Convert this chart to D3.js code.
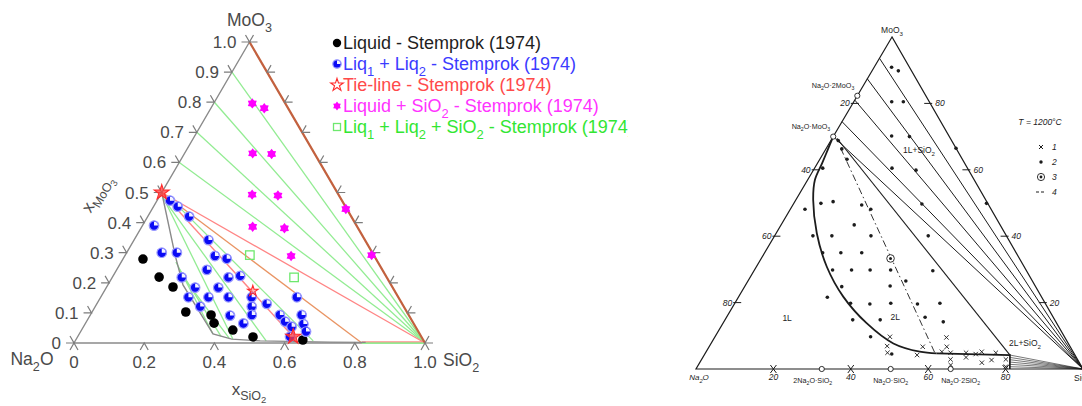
<!DOCTYPE html>
<html><head><meta charset="utf-8">
<script src="https://d3js.org/d3.v7.min.js"></script>
<style>html,body{margin:0;padding:0;background:#fff;} svg{display:block;}</style>
</head><body>
<svg id="chart" width="1082" height="406"></svg>
<script>
// ================= LEFT DIAGRAM DATA  (mole fractions [x_SiO2, x_MoO3]) =================
const leftEdgeTicks  = [0,0.1,0.2,0.3,0.4,0.5,0.6,0.7,0.8,0.9,1.0];
const leftEdgeLabels = ["0","0.1","0.2","0.3","0.4","0.5","0.6","0.7","0.8","0.9","1.0"];
const bottomTicks    = [0,0.2,0.4,0.6,0.8,1.0];
const bottomLabels   = ["0","0.2","0.4","0.6","0.8","1.0"];
const rightEdgeTicks = [0,0.1,0.2,0.3,0.4,0.5,0.6,0.7,0.8,0.9,1.0];

const liquidPts = [[0.057,0.279],[0.133,0.219],[0.189,0.186],[0.267,0.103],[0.344,0.093],
  [0.366,0.066],[0.431,0.043],[0.500,0.020],[0.647,0.010]];
const liq12Pts = [[0.037,0.473],[0.069,0.453],[0.118,0.420],[0.033,0.390],[0.212,0.342],
  [0.100,0.300],[0.143,0.300],[0.257,0.289],[0.295,0.280],[0.257,0.243],[0.198,0.218],
  [0.331,0.218],[0.362,0.223],[0.253,0.184],[0.319,0.184],[0.250,0.152],[0.307,0.152],
  [0.364,0.152],[0.430,0.152],[0.299,0.121],[0.484,0.130],[0.446,0.121],[0.399,0.091],
  [0.460,0.093],[0.450,0.065],[0.540,0.093],[0.566,0.071],[0.593,0.054],[0.559,0.152],
  [0.602,0.093],[0.622,0.063],[0.642,0.038],[0.605,0.021]];
const liqSiO2Pts = [[0.110,0.796],[0.152,0.780],[0.194,0.630],[0.249,0.628],[0.261,0.493],
  [0.336,0.490],[0.316,0.386],[0.409,0.381],[0.474,0.289],[0.552,0.445],[0.702,0.292]];
const liq12SiO2Pts = [[0.355,0.292],[0.518,0.218]];
const tieEndStars = [[0,0.5],[0.614,0.021]];
const tieMidStars = [[0.423,0.173]];
const fanMoO3 = [0.6,0.7,0.8,0.9,1.0];          // left-edge starts of Liquid+SiO2 tie lines
const tieLines2L = [
  [[0.011,0.485],[0.446,0.013]], [[0.017,0.478],[0.544,0.007]],
  [[0.156,0.269],[0.381,0.030]], [[0.174,0.249],[0.407,0.023]],
  [[0.197,0.223],[0.433,0.017]], [[0.024,0.488],[0.678,0.007]]];
const binodalL = [[0,0.5],[0.142,0.292],[0.214,0.193],[0.381,0.030],[0.443,0.013],
  [0.527,0.007],[0.728,0.003],[0.83,0.002]];
const triLiq1 = [0,0.5], triLiq2 = [0.82,0], triSolid = [1,0];
const tieLineRed = [[0,0.5],[0.614,0.021]];

const legendRows = [
  {label:"Liquid - Stemprok (1974)", color:"#1e1e1e", marker:"dot"},
  {label:"Liq_1 + Liq_2 - Stemprok (1974)", color:"#3b3bff", marker:"half"},
  {label:"Tie-line - Stemprok (1974)", color:"#ff4a4a", marker:"star"},
  {label:"Liquid + SiO_2 - Stemprok (1974)", color:"#ff33ff", marker:"hex"},
  {label:"Liq_1 + Liq_2 + SiO_2 - Stemprok (1974)", color:"#33e633", marker:"square"}];

// ================= RIGHT DIAGRAM DATA (mass fractions [SiO2, MoO3]) =================
const rLeftTicks  = [20,40,60,80];     // Na2O %
const rRightTicks = [80,60,40,20];     // MoO3 %
const rBottomTicks= [20,40,60,80];     // SiO2 %
const rDots = [[0.045,0.909],[0.068,0.898],[0.098,0.805],[0.128,0.805],[0.150,0.702],[0.197,0.700],
  [0.200,0.605],[0.265,0.599],[0.335,0.665],[0.021,0.605],[0.019,0.688],[0.041,0.663],[0.070,0.632],
  [0.038,0.481],[0.070,0.499],[0.099,0.504],[0.178,0.494],[0.208,0.481],[0.332,0.497],[0.498,0.499],
  [0.189,0.434],[0.099,0.401],[0.148,0.401],[0.249,0.401],[0.397,0.401],[0.150,0.350],[0.197,0.350],
  [0.251,0.350],[0.202,0.298],[0.251,0.298],[0.299,0.298],[0.352,0.298],[0.462,0.296],[0.408,0.265],
  [0.251,0.248],[0.375,0.250],[0.230,0.216],[0.299,0.198],[0.350,0.196],[0.403,0.198],[0.473,0.196],
  [0.530,0.198],[0.330,0.148],[0.401,0.148],[0.513,0.156],[0.567,0.142],[0.402,0.097],[0.483,0.045]];
const rCrosses = [[0.452,0.097],[0.459,0.069],[0.470,0.049],[0.550,0.042],[0.552,0.067],[0.599,0.095],
  [0.614,0.067],[0.633,0.049],[0.643,0.029],[0.652,0.012],[0.673,0.049],[0.680,0.035],[0.700,0.045],
  [0.712,0.052],[0.729,0.019],[0.750,0.027],[0.750,0.049],[0.786,0.029],[0.797,0.007],[0.609,0.052]];
const rCircled = [[0.334,0.333]];
const rCompoundsLeft = [{name:"Na_2O·2MoO_3", s:0, m:0.823},{name:"Na_2O·MoO_3", s:0, m:0.700}];
const rCompoundsBottom = [{name:"2Na_2O·SiO_2", s:0.325, m:0},{name:"Na_2O·SiO_2", s:0.503, m:0},
  {name:"Na_2O·2SiO_2", s:0.658, m:0}];
const rBinodalCurve = [[0,0.70],[0.006,0.66],[0.012,0.62],[0.019,0.569],[0.045,0.509],[0.105,0.409],
  [0.182,0.308],[0.270,0.218],[0.371,0.138],[0.471,0.077],[0.552,0.052],[0.598,0.047]];
const rBinodalFlat = [[0.598,0.047],[0.790,0.042],[0.811,0]];
const rFanLeftMoO3 = [0.936,0.874,0.81,0.745,0.70];
const rTriEdge = [[0.012,0.695],[0.790,0.042]];
const rFanBottom = [[0.790,0.042],[0.793,0.035],[0.797,0.028],[0.800,0.021],[0.804,0.014],[0.807,0.007]];
const rTieDashDot = [[0.037,0.665],[0.594,0.047]];
const rRegionLabels = [{t:"1L+SiO_2", s:0.247, m:0.650},{t:"1L", s:0.162, m:0.145},{t:"2L", s:0.44, m:0.148},
  {t:"2L+SiO_2", s:0.815, m:0.069}];
const rLegend = [{sym:"x", t:"1"},{sym:"dot", t:"2"},{sym:"circ", t:"3"},{sym:"dash", t:"4"}];

// ================= DRAWING =================
const svg = d3.select('#chart');
const FONT = "'Liberation Sans', Arial, Helvetica, sans-serif";
const line = d3.line();

function rich(sel, str, fs){
  const parts=[]; let buf='';
  for(let i=0;i<str.length;i++){
    if(str[i]==='_' && i+1<str.length){ if(buf) parts.push([buf,false]); buf=''; parts.push([str[i+1],true]); i++; }
    else buf+=str[i];
  }
  if(buf) parts.push([buf,false]);
  let cur=0;
  parts.forEach(([t,sub])=>{
    const target = sub ? fs*0.32 : 0;
    sel.append('tspan').attr('dy', target-cur).attr('font-size', sub? fs*0.72 : fs).text(t);
    cur = target;
  });
  return sel;
}

// ---------- LEFT ----------
const lx = d3.scaleLinear().domain([0,1]).range([74,425]);
const ly = d3.scaleLinear().domain([0,1]).range([343,42]);
const pL = d => [lx(d[0] + d[1]/2), ly(d[1])];
const gL = svg.append('g');
const GREEN = "#93ec93", RED = "#ff8585", ORANGE = "#e99463", GRAY = "#8a8a8a";

gL.append('path').attr('d', line([pL([0,1]), pL([0,0]), pL([1,0])]))
  .attr('fill','none').attr('stroke',GRAY).attr('stroke-width',1.4);
fanMoO3.forEach(m => gL.append('path').attr('d', line([pL([0,m]), pL([1,0])]))
  .attr('stroke',GREEN).attr('stroke-width',1.3).attr('fill','none'));
tieLines2L.forEach(t => gL.append('path').attr('d', line(t.map(pL)))
  .attr('stroke',GREEN).attr('stroke-width',1.3).attr('fill','none'));
gL.append('path').attr('d', line([pL(triLiq1), pL(triSolid)])).attr('stroke',RED).attr('stroke-width',1.3).attr('fill','none');
gL.append('path').attr('d', line([pL(triLiq1), pL(triLiq2)])).attr('stroke',ORANGE).attr('stroke-width',1.3).attr('fill','none');
gL.append('path').attr('d', line([pL(triLiq2), pL(triSolid)])).attr('stroke',GREEN).attr('stroke-width',2).attr('fill','none');
gL.append('path').attr('d', line([pL(triLiq2), pL(triSolid)].map(p=>[p[0],p[1]-1.2]))).attr('stroke',RED).attr('stroke-width',1).attr('fill','none');
gL.append('path').attr('d', line(tieLineRed.map(pL))).attr('stroke',RED).attr('stroke-width',1.4).attr('fill','none');
gL.append('path').attr('d', line(binodalL.map(pL))).attr('stroke',GRAY).attr('stroke-width',1.4).attr('fill','none');
gL.append('path').attr('d', line([pL([0,1]), pL([1,0])])).attr('stroke','#c4603f').attr('stroke-width',2.2).attr('fill','none');

// ticks
const TL = 8, c60 = Math.cos(Math.PI/3), s60 = Math.sin(Math.PI/3);
const tickG = gL.append('g').attr('stroke','#7c7c7c').attr('stroke-width',1.2).attr('fill','none');
leftEdgeTicks.forEach(m => { const [x,y]=pL([0,m]);
  tickG.append('path').attr('d', line([[x-TL,y],[x,y],[x-TL*c60,y-TL*s60]])); });
rightEdgeTicks.forEach(m => { const [x,y]=pL([1-m,m]);
  tickG.append('path').attr('d', line([[x+TL,y],[x,y],[x+TL*c60,y-TL*s60]])); });
bottomTicks.forEach(s => { const [x,y]=pL([s,0]);
  tickG.append('path').attr('d', line([[x-TL*c60,y+TL*s60],[x,y],[x+TL*c60,y+TL*s60]])); });

const LFS = 17, LCOL = "#4a4a4a";
leftEdgeTicks.forEach((m,i) => { const [x,y]=pL([0,m]);
  gL.append('text').attr('x',x-13).attr('y',y+6).attr('text-anchor','end').attr('font-family',FONT)
    .attr('font-size',LFS).attr('fill',LCOL).text(leftEdgeLabels[i]); });
bottomTicks.forEach((s,i) => { const [x,y]=pL([s,0]);
  gL.append('text').attr('x',x).attr('y',y+25).attr('text-anchor','middle').attr('font-family',FONT)
    .attr('font-size',LFS).attr('fill',LCOL).text(bottomLabels[i]); });
// vertex names
{ const [x,y]=pL([0,1]); rich(gL.append('text').attr('x',x).attr('y',y-16).attr('text-anchor','middle')
    .attr('font-family',FONT).attr('fill',LCOL), "MoO_3", 17.5); }
{ const [x,y]=pL([0,0]); rich(gL.append('text').attr('x',x-42).attr('y',y+22).attr('text-anchor','middle')
    .attr('font-family',FONT).attr('fill',LCOL), "Na_2O", 17.5); }
{ const [x,y]=pL([1,0]); rich(gL.append('text').attr('x',x+18).attr('y',y+23).attr('text-anchor','start')
    .attr('font-family',FONT).attr('fill',LCOL), "SiO_2", 17.5); }
// axis titles
{ const t = gL.append('text').attr('font-family',FONT).attr('fill',LCOL).attr('text-anchor','middle')
    .attr('transform','translate(101,196) rotate(-60)');
  t.append('tspan').attr('font-size',17).text('x');
  t.append('tspan').attr('font-size',12.5).attr('dy',5).text('MoO');
  t.append('tspan').attr('font-size',9.5).attr('dy',3).text('3'); }
{ const t = gL.append('text').attr('font-family',FONT).attr('fill',LCOL).attr('text-anchor','middle')
    .attr('x',249).attr('y',395);
  t.append('tspan').attr('font-size',17).text('x');
  t.append('tspan').attr('font-size',12.5).attr('dy',5).text('SiO');
  t.append('tspan').attr('font-size',9.5).attr('dy',3).text('2'); }

// marker helpers
function mDot(g,x,y,r){ g.append('circle').attr('cx',x).attr('cy',y).attr('r',r).attr('fill','#000'); }
function mHalf(g,x,y,r){
  g.append('circle').attr('cx',x).attr('cy',y).attr('r',r).attr('fill','#0a0af5').attr('stroke','#9a9aff').attr('stroke-width',1.2);
  g.append('path').attr('transform',`translate(${x},${y})`)
    .attr('d', d3.arc()({innerRadius:0, outerRadius:r*0.82, startAngle:0, endAngle:Math.PI/2})).attr('fill','#f4f4ff');
}
function mHex(g,x,y,r){
  const pts = d3.range(12).map(i => { const a = -Math.PI/2 + i*Math.PI/6, rr = i%2 ? r*0.66 : r;
    return [x+rr*Math.cos(a), y+rr*Math.sin(a)]; });
  g.append('path').attr('d', line(pts)+'Z').attr('fill','#ff00ff');
}
function mStar(g,x,y,size,fill){
  g.append('path').attr('transform',`translate(${x},${y})`).attr('d', d3.symbol(d3.symbolStar, size)())
    .attr('fill',fill).attr('stroke','#ff2a2a').attr('stroke-width',1.1);
}
function mSquare(g,x,y,a){
  g.append('rect').attr('x',x-a/2).attr('y',y-a/2).attr('width',a).attr('height',a)
    .attr('fill','none').attr('stroke','#6ee86e').attr('stroke-width',1.3);
}
const mk = gL.append('g');
liquidPts.forEach(d => { const [x,y]=pL(d); mDot(mk,x,y,4.8); });
liq12Pts.forEach(d => { const [x,y]=pL(d); mHalf(mk,x,y,4.8); });
liqSiO2Pts.forEach(d => { const [x,y]=pL(d); mHex(mk,x,y,5.2); });
liq12SiO2Pts.forEach(d => { const [x,y]=pL(d); mSquare(mk,x,y,8.5); });
tieEndStars.forEach(d => { const [x,y]=pL(d); mStar(mk,x,y,70,'rgba(255,60,60,0.75)'); });
tieMidStars.forEach(d => { const [x,y]=pL(d); mStar(mk,x,y,35,'rgba(255,90,90,0.4)'); });

// legend
svg.append('clipPath').attr('id','lgclip').append('rect').attr('x',300).attr('y',20).attr('width',328).attr('height',130);
const lg = svg.append('g').attr('clip-path','url(#lgclip)');
legendRows.forEach((r,i) => {
  const y = 43 + i*21, x = 337;
  if(r.marker==='dot') mDot(lg,x,y,4.2);
  if(r.marker==='half') mHalf(lg,x,y,4.2);
  if(r.marker==='star') mStar(lg,x,y,50,'rgba(255,255,255,0.6)');
  if(r.marker==='hex') mHex(lg,x,y,4.4);
  if(r.marker==='square') mSquare(lg,x,y,7);
  rich(lg.append('text').attr('x',343).attr('y',y+6).attr('font-family',FONT).attr('fill',r.color), r.label, 18);
});

// ---------- RIGHT ----------
const rx = d3.scaleLinear().domain([0,1]).range([696,1083]);
const ry = d3.scaleLinear().domain([0,1]).range([369,37]);
const R_SKEW = 0.5065;
const pR = d => [rx(d[0] + R_SKEW*d[1]), ry(d[1])];
const gR = svg.append('g');
const RFONT = "'Liberation Sans', Arial, sans-serif", INK = "#1c1c1c";
const stroke = (p,w) => p.attr('fill','none').attr('stroke',INK).attr('stroke-width',w||1.0);

stroke(gR.append('path').attr('d', line([pR([0,1]),pR([0,0]),pR([1,0])])+'Z'),1.2);
rFanLeftMoO3.forEach(m => stroke(gR.append('path').attr('d', line([pR([0,m]),pR([1,0])]))));
stroke(gR.append('path').attr('d', line(rTriEdge.map(pR))),1.1);
rFanBottom.forEach(d => stroke(gR.append('path').attr('d', line([pR(d),pR([1,0])])),0.6));
stroke(gR.append('path').attr('d', d3.line().curve(d3.curveCatmullRom)(rBinodalCurve.map(pR))),1.8);
stroke(gR.append('path').attr('d', line(rBinodalFlat.map(pR))),1.7);
stroke(gR.append('path').attr('d', line(rTieDashDot.map(pR))),0.9).attr('stroke-dasharray','7,3,1.5,3');

// ticks
rLeftTicks.forEach(v => { const [x,y]=pR([0,1-v/100]);
  stroke(gR.append('path').attr('d', line([[x-2,y],[x+6,y]])));
  gR.append('text').attr('x',x-3).attr('y',y+3).attr('text-anchor','end').attr('font-family',RFONT)
    .attr('font-style','italic').attr('font-size',8.5).attr('fill',INK).text(v); });
rRightTicks.forEach(v => { const m=v/100, [x,y]=pR([1-m,m]);
  stroke(gR.append('path').attr('d', line([[x-6,y],[x+2,y]])));
  gR.append('text').attr('x',x+5).attr('y',y+3).attr('font-family',RFONT)
    .attr('font-style','italic').attr('font-size',8.5).attr('fill',INK).text(v); });
rBottomTicks.forEach(v => { const [x,y]=pR([v/100,0]);
  stroke(gR.append('path').attr('d', line([[x-3,y-4],[x+3,y+4]])));
  stroke(gR.append('path').attr('d', line([[x+3,y-4],[x-3,y+4]])));
  gR.append('text').attr('x',x).attr('y',y+11).attr('text-anchor','middle').attr('font-family',RFONT)
    .attr('font-style','italic').attr('font-size',8.5).attr('fill',INK).text(v); });

// compounds
rCompoundsLeft.forEach(c => { const [x,y]=pR([c.s,c.m]);
  gR.append('circle').attr('cx',x).attr('cy',y).attr('r',2.6).attr('fill','#fff').attr('stroke',INK).attr('stroke-width',0.9);
  rich(gR.append('text').attr('x',x-3).attr('y',y-8).attr('text-anchor','end').attr('font-family',RFONT)
    .attr('fill',INK), c.name, 7.2); });
const bottomLabelShift = [-9, 0, 10];
rCompoundsBottom.forEach((c,i) => { const [x,y]=pR([c.s,c.m]);
  gR.append('circle').attr('cx',x).attr('cy',y).attr('r',2.6).attr('fill','#fff').attr('stroke',INK).attr('stroke-width',0.9);
  rich(gR.append('text').attr('x',x+bottomLabelShift[i]).attr('y',y+14).attr('text-anchor','middle').attr('font-family',RFONT)
    .attr('fill',INK), c.name, 7.2); });
// vertices
{ const [x,y]=pR([0,1]); rich(gR.append('text').attr('x',x).attr('y',y-4).attr('text-anchor','middle')
    .attr('font-family',RFONT).attr('fill',INK), "MoO_3", 8.5); }
{ const [x,y]=pR([0,0]); rich(gR.append('text').attr('x',x+3).attr('y',y+11).attr('text-anchor','middle')
    .attr('font-family',RFONT).attr('font-style','italic').attr('fill',INK), "Na_2O", 8); }
{ const [x,y]=pR([1,0]); rich(gR.append('text').attr('x',x-9).attr('y',y+12).attr('text-anchor','start')
    .attr('font-family',RFONT).attr('fill',INK), "SiO_2", 8.5); }

// region labels
rRegionLabels.forEach(l => { const [x,y]=pR([l.s,l.m]);
  rich(gR.append('text').attr('x',x).attr('y',y).attr('text-anchor','middle').attr('font-family',RFONT)
    .attr('fill',INK), l.t, 8.5); });

// points
rDots.forEach(d => { const [x,y]=pR(d); gR.append('circle').attr('cx',x).attr('cy',y).attr('r',1.8).attr('fill',INK); });
rCrosses.forEach(d => { const [x,y]=pR(d);
  stroke(gR.append('path').attr('d', line([[x-2.2,y-2.2],[x+2.2,y+2.2]])),0.9);
  stroke(gR.append('path').attr('d', line([[x+2.2,y-2.2],[x-2.2,y+2.2]])),0.9); });
rCircled.forEach(d => { const [x,y]=pR(d);
  gR.append('circle').attr('cx',x).attr('cy',y).attr('r',3.8).attr('fill','#fff').attr('stroke',INK).attr('stroke-width',0.9);
  gR.append('circle').attr('cx',x).attr('cy',y).attr('r',1.5).attr('fill',INK); });

// legend right
gR.append('text').attr('x',1040).attr('y',125).attr('text-anchor','middle').attr('font-family',RFONT)
  .attr('font-style','italic').attr('font-size',8.5).attr('fill',INK).text('T = 1200°C');
rLegend.forEach((l,i) => {
  const x = 1041, y = 147 + i*15;
  if(l.sym==='x'){ stroke(gR.append('path').attr('d', line([[x-2,y-2],[x+2,y+2]])));
                   stroke(gR.append('path').attr('d', line([[x+2,y-2],[x-2,y+2]]))); }
  if(l.sym==='dot') gR.append('circle').attr('cx',x).attr('cy',y).attr('r',1.7).attr('fill',INK);
  if(l.sym==='circ'){ gR.append('circle').attr('cx',x).attr('cy',y).attr('r',3.6).attr('fill','#fff').attr('stroke',INK).attr('stroke-width',0.9);
                      gR.append('circle').attr('cx',x).attr('cy',y).attr('r',1.4).attr('fill',INK); }
  if(l.sym==='dash') stroke(gR.append('path').attr('d', line([[x-5,y],[x+4,y]]))).attr('stroke-dasharray','3,2');
  gR.append('text').attr('x',x+11).attr('y',y+3).attr('font-family',RFONT).attr('font-style','italic')
    .attr('font-size',8.5).attr('fill',INK).text(l.t);
});
</script>
</body></html>
